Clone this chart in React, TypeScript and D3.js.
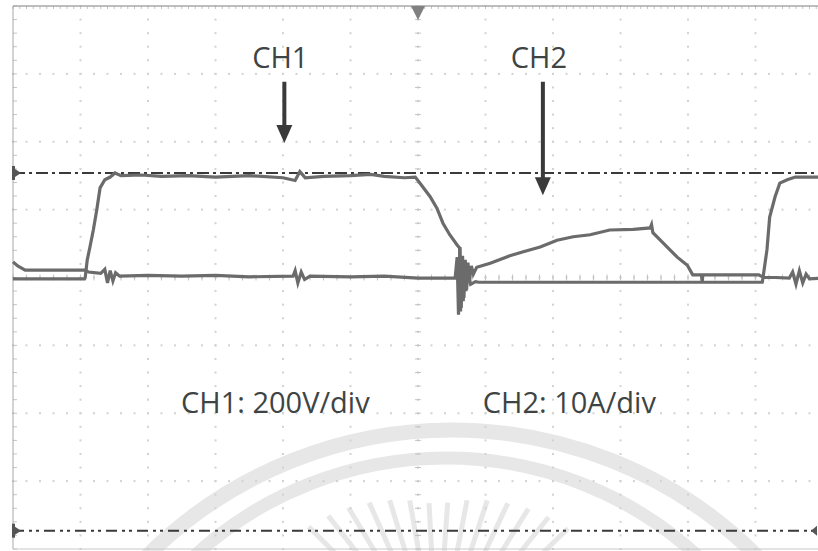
import React from "react";
import * as d3 from "d3";

// Screen geometry in divisions: 12 horizontal x 8 vertical, centre at (6, 0)
const xDivs = d3.range(0, 13);
const yDivs = d3.range(-4, 5);

// CH1 voltage trace: [time (div), level (div)]
const ch1: [number, number][] = [
  [0, -0.02], [1.06, -0.02], [1.07, 0.0], [1.1, 0.26], [1.14, 0.45], [1.19, 0.7],
  [1.24, 0.99], [1.29, 1.32], [1.36, 1.44], [1.44, 1.48], [1.51, 1.54], [1.6, 1.5],
  [1.9, 1.51], [2.2, 1.49], [2.6, 1.5], [3.0, 1.48], [3.5, 1.5], [4.0, 1.47],
  [4.18, 1.43], [4.25, 1.56], [4.33, 1.47], [4.6, 1.49], [5.0, 1.5], [5.3, 1.52],
  [5.5, 1.49], [5.8, 1.47], [5.96, 1.48], [6.03, 1.39], [6.18, 1.19], [6.28, 1.02],
  [6.37, 0.8], [6.47, 0.63], [6.58, 0.48], [6.62, 0.43], [6.63, -0.5], [6.65, 0.3],
  [6.67, -0.35], [6.69, 0.2], [6.71, -0.2], [6.74, 0.08], [6.78, -0.1], [6.85, -0.06],
  [6.9, -0.07], [11.1, -0.07], [11.11, -0.01], [11.17, 0.41], [11.21, 0.89],
  [11.29, 1.19], [11.36, 1.39], [11.47, 1.44], [11.59, 1.48], [12, 1.48],
];

// CH2 current trace: [time (div), level (div)]
const ch2: [number, number][] = [
  [0, 0.23], [0.07, 0.17], [0.18, 0.11], [1.07, 0.11], [1.12, 0.08], [1.3, 0.06],
  [1.36, 0.12], [1.4, -0.08], [1.44, 0.1], [1.48, -0.05], [1.52, 0.07], [1.58, 0.02],
  [2.0, 0.03], [2.5, 0.02], [3.0, 0.03], [3.5, 0.01], [4.15, 0.02], [4.18, 0.1],
  [4.22, -0.08], [4.27, 0.08], [4.32, -0.03], [4.4, 0.02], [5.0, 0.01], [5.5, 0.02],
  [6.0, -0.01], [6.55, -0.01], [6.58, 0.3], [6.6, -0.55], [6.62, 0.45], [6.64, -0.45],
  [6.66, 0.32], [6.68, -0.3], [6.7, 0.26], [6.72, -0.18], [6.74, 0.22], [6.76, -0.05],
  [6.79, 0.17], [6.82, 0.05], [6.87, 0.15], [7.07, 0.21], [7.36, 0.32], [7.56, 0.38],
  [7.81, 0.45], [8.06, 0.55], [8.3, 0.6], [8.55, 0.63], [8.84, 0.7], [9.19, 0.71],
  [9.44, 0.73], [9.46, 0.78], [9.48, 0.66], [9.63, 0.51], [9.84, 0.3], [9.99, 0.18],
  [10.07, 0.04], [10.2, 0.04], [10.21, -0.07], [10.22, 0.04], [11.05, 0.04], [11.12, 0.0],
  [11.3, 0.0], [11.5, -0.01], [11.55, 0.08], [11.6, -0.1], [11.65, 0.1], [11.7, -0.08],
  [11.75, 0.05], [11.8, -0.02], [12, -0.01],
];

// Cursor levels (div)
const cursorUpper = 1.54;
const cursorLower = -3.73;

// Channel labels: [text, time (div), arrow tip level (div)]
const channelTags: [string, number, number][] = [
  ["CH1", 4.02, 1.98],
  ["CH2", 7.85, 1.21],
];
const scaleNotes: [string, number][] = [
  ["CH1: 200V/div", 2.49],
  ["CH2: 10A/div", 6.96],
];
const tagLevel = 3.09;
const noteLevel = -1.99;

// Watermark ray angles (deg from vertical)
const rayAngles = [-45, -38, -31, -24, -17, -10, -3, 4, 11, 18, 25, 32, 39, 46];

const W = 818;
const H = 551;

export default function App() {
  const x = d3.scaleLinear().domain([0, 12]).range([13, 823]);
  const y = d3.scaleLinear().domain([-4, 4]).range([549, 6]);

  const line = d3
    .line<[number, number]>()
    .x((d) => x(d[0]))
    .y((d) => y(d[1]));

  const minorX = d3.range(0, 12.001, 0.2);
  const minorY = d3.range(-4, 4.001, 0.2);

  const traceColor = "#6b6b6b";
  const textColor = "#3e4444";
  const gridDot = "#d2d2d2";

  const arc = (cx: number, cy: number, r: number) => {
    const p = d3.path();
    p.arc(cx, cy, r, Math.PI, 2 * Math.PI);
    return p.toString();
  };

  const rayCx = 437;
  const rayCy = 655;

  return (
    <svg
      width={W}
      height={H}
      style={{ position: "fixed", left: 0, top: 0, background: "#fff" }}
      fontFamily="'Open Sans', 'Noto Sans', sans-serif"
    >
      <rect width={W} height={H} fill="#fff" />

      {/* faint watermark */}
      <g stroke="#e7e7e7" fill="none">
        <path d={arc(452, 862, 432)} strokeWidth={15} />
        <path d={arc(446, 830, 372)} strokeWidth={13} />
        {rayAngles.map((a, i) => {
          const t = (a * Math.PI) / 180;
          const r0 = 150 + Math.abs(a) * 0.7;
          const r1 = 80;
          return (
            <line
              key={i}
              x1={rayCx + r0 * Math.sin(t)}
              y1={rayCy - r0 * Math.cos(t)}
              x2={rayCx + r1 * Math.sin(t)}
              y2={rayCy - r1 * Math.cos(t)}
              strokeWidth={5}
            />
          );
        })}
      </g>

      {/* dotted graticule */}
      <g fill={gridDot}>
        {yDivs.slice(1, -1).map((d) =>
          minorX.map((m, i) => (
            <rect key={`h${d}-${i}`} x={x(m) - 1} y={y(d) - 1} width={2} height={2} />
          ))
        )}
        {xDivs.slice(1, -1).map((d) =>
          minorY.map((m, i) => (
            <rect key={`v${d}-${i}`} x={x(d) - 1} y={y(m) - 1} width={2} height={2} />
          ))
        )}
      </g>

      {/* centre axes with minor ticks */}
      <g stroke="#c4c4c4" strokeWidth={1}>
        {minorY.map((m, i) => (
          <line key={`cy${i}`} x1={x(6) - 3} x2={x(6) + 3} y1={y(m)} y2={y(m)} />
        ))}
        {minorX.map((m, i) => (
          <line key={`cx${i}`} x1={x(m)} x2={x(m)} y1={y(0) - 3} y2={y(0) + 3} />
        ))}
        {minorY.map((m, i) => (
          <line key={`ly${i}`} x1={x(0)} x2={x(0) + 4} y1={y(m)} y2={y(m)} />
        ))}
        {d3.range(0, 12.001, 0.1).map((m, i) => (
          <line key={`tx${i}`} x1={x(m)} x2={x(m)} y1={y(4)} y2={y(4) + 3} />
        ))}
      </g>

      {/* frame */}
      <g stroke="#a8a8a8" fill="none">
        <line x1={x(0)} x2={x(12)} y1={y(4)} y2={y(4)} strokeWidth={1.5} />
        <line x1={x(0)} x2={x(0)} y1={y(4)} y2={y(-4)} strokeWidth={1} />
        <line x1={x(0)} x2={x(12)} y1={y(-4)} y2={y(-4)} strokeWidth={1} stroke="#c8c8c8" />
      </g>

      {/* trigger position marker */}
      <path
        d={`M${x(6) - 7},${y(4)} L${x(6) + 7},${y(4)} L${x(6)},${y(4) + 14} Z`}
        fill="#808080"
      />

      {/* cursors */}
      <line
        x1={x(0)}
        x2={x(12)}
        y1={y(cursorUpper)}
        y2={y(cursorUpper)}
        stroke="#3a3a3a"
        strokeWidth={2}
        strokeDasharray="12 4 3 4"
      />
      <line
        x1={x(0)}
        x2={x(12)}
        y1={y(cursorLower)}
        y2={y(cursorLower)}
        stroke="#3a3a3a"
        strokeWidth={2}
        strokeDasharray="11 5 3 4 3 5"
      />
      {[cursorUpper, cursorLower].map((c, i) => (
        <g key={`m${i}`} fill="#555">
          <rect x={x(0) - 1} y={y(c) - 7} width={3} height={14} />
          <path d={`M${x(0) + 2},${y(c) - 4} L${x(0) + 8},${y(c)} L${x(0) + 2},${y(c) + 4} Z`} />
        </g>
      ))}
      <path
        d={`M${W - 1},${y(cursorLower) - 5} L${W - 7},${y(cursorLower)} L${W - 1},${y(cursorLower) + 5} Z`}
        fill="#555"
      />

      {/* traces */}
      <g fill="none" stroke={traceColor} strokeWidth={3.2} strokeLinejoin="miter">
        <path d={line(ch2) ?? ""} />
        <path d={line(ch1) ?? ""} />
      </g>

      {/* channel tags with arrows */}
      {channelTags.map(([label, t, tip]) => {
        const cx = x(t);
        const top = y(tagLevel) + 14;
        const tipY = y(tip);
        return (
          <g key={label}>
            <text
              x={cx - 4}
              y={y(tagLevel)}
              textAnchor="middle"
              fontSize={29}
              fill={textColor}
            >
              {label}
            </text>
            <line x1={cx} x2={cx} y1={top} y2={tipY - 16} stroke="#3a3a3a" strokeWidth={4} />
            <path
              d={`M${cx - 8},${tipY - 18} L${cx + 8},${tipY - 18} L${cx},${tipY} Z`}
              fill="#3a3a3a"
            />
          </g>
        );
      })}

      {scaleNotes.map(([label, t]) => (
        <text key={label} x={x(t)} y={y(noteLevel)} fontSize={29} fill={textColor}>
          {label}
        </text>
      ))}
    </svg>
  );
}
